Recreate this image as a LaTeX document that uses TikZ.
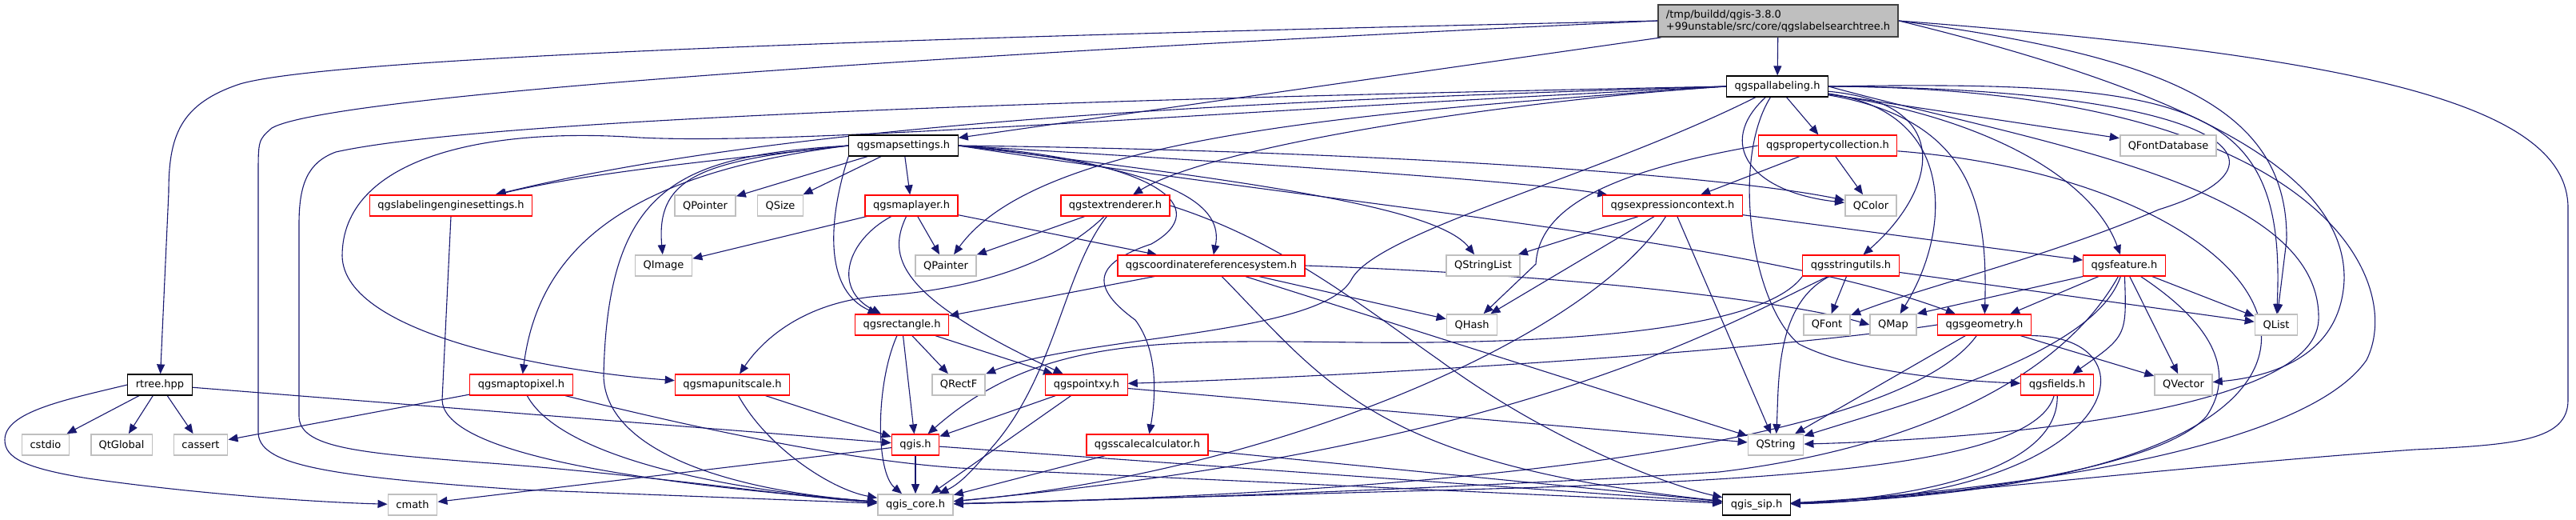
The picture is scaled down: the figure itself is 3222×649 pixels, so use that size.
\documentclass[tikz,border=0pt]{standalone}
\usepackage{fontspec}
\setmainfont{DejaVu Sans}
\usetikzlibrary{arrows.meta,backgrounds}
\definecolor{edgeblue}{HTML}{191970}
\definecolor{boxgray}{HTML}{BFBFBF}
\definecolor{rootedge}{HTML}{404040}

\begin{document}
\begin{tikzpicture}[
  x=0.5pt, y=-0.5pt,
  font=\fontsize{6.5}{7.5}\selectfont,
  >={Triangle[length=6pt,width=5pt]},
  file/.style={draw=black, line width=0.6pt, fill=white,
    minimum height=13pt, inner xsep=5pt, inner ysep=1pt},
  sysfile/.style={file, draw=boxgray, line width=0.9pt},
  redfile/.style={file, draw=red},
  root/.style={file, draw=rootedge, fill=boxgray, line width=0.9pt,
    align=left, minimum height=20pt, inner ysep=2pt},
  inc/.style={->, draw=edgeblue, line width=0.55pt}
]
\useasboundingbox (0,0) rectangle (3222,649);

\node[root] (main) at (2224,26)
  {/tmp/buildd/qgis-3.8.0\\+99unstable/src/core/qgslabelsearchtree.h};
\node[file] (pallabeling) at (2223,108) {qgspallabeling.h};
\node[file] (mapsettings) at (1130,182) {qgsmapsettings.h};
\node[redfile] (propcoll) at (2286,182) {qgspropertycollection.h};
\node[sysfile] (fontdb) at (2712,182) {QFontDatabase};
\node[redfile] (labengine) at (564,257) {qgslabelingenginesettings.h};
\node[sysfile] (qpointer) at (882,257) {QPointer};
\node[sysfile] (qsize) at (976,257) {QSize};
\node[redfile] (maplayer) at (1140,257) {qgsmaplayer.h};
\node[redfile] (textrend) at (1395,257) {qgstextrenderer.h};
\node[redfile] (exprctx) at (2092,257) {qgsexpressioncontext.h};
\node[sysfile] (qcolor) at (2340,257) {QColor};
\node[sysfile] (qimage) at (830,332) {QImage};
\node[sysfile] (qpainter) at (1183,332) {QPainter};
\node[redfile] (crs) at (1515,332) {qgscoordinatereferencesystem.h};
\node[sysfile] (qstringlist) at (1855,332) {QStringList};
\node[redfile] (strutils) at (2315,332) {qgsstringutils.h};
\node[redfile] (feature) at (2657,332) {qgsfeature.h};
\node[redfile] (rectangle) at (1128,406) {qgsrectangle.h};
\node[sysfile] (qhash) at (1841,406) {QHash};
\node[sysfile] (qfont) at (2285,406) {QFont};
\node[sysfile] (qmap) at (2368,406) {QMap};
\node[redfile] (geometry) at (2482,406) {qgsgeometry.h};
\node[sysfile] (qlist) at (2847,406) {QList};
\node[file] (rtree) at (200,481) {rtree.hpp};
\node[redfile] (maptopixel) at (652,481) {qgsmaptopixel.h};
\node[redfile] (mapunit) at (916,481) {qgsmapunitscale.h};
\node[sysfile] (qrectf) at (1199,481) {QRectF};
\node[redfile] (pointxy) at (1359,481) {qgspointxy.h};
\node[redfile] (fields) at (2573,481) {qgsfields.h};
\node[sysfile] (qvector) at (2731,481) {QVector};
\node[sysfile] (cstdio) at (57,556) {cstdio};
\node[sysfile] (qtglobal) at (152,556) {QtGlobal};
\node[sysfile] (cassert) at (251,556) {cassert};
\node[redfile] (qgish) at (1145,556) {qgis.h};
\node[redfile] (scalecalc) at (1435,556) {qgsscalecalculator.h};
\node[sysfile] (qstring) at (2221,556) {QString};
\node[sysfile] (cmath) at (516,631) {cmath};
\node[sysfile] (qgiscore) at (1145,631) {qgis\_core.h};
\node[file] (qgissip) at (2197,631) {qgis\_sip.h};

\begin{scope}[on background layer]
% qgslabelsearchtree.h
\draw[inc] (main) -- (pallabeling);
\draw[inc] (main) -- (mapsettings);
\draw[inc] (main.west) .. controls (1200,45) and (420,70) .. (300,105)
  .. controls (225,130) and (211,170) .. (211,240) -- (rtree);
\draw[inc] (main.west) .. controls (1300,62) and (420,115) .. (340,160)
  .. controls (323,175) .. (323,220) -- (323,540)
  .. controls (323,580) and (400,595) .. (650,612) -- (qgiscore);
\draw[inc] (main.east) .. controls (2700,70) and (2862,130) .. (2860,300) -- (qlist);
\draw[inc] (main.east) .. controls (2720,110) and (2935,210) .. (2932,350)
  .. controls (2928,440) and (2850,470) .. (qvector);
\draw[inc] (main.east) .. controls (2950,70) and (3212,130) .. (3212,260) -- (3212,500)
  .. controls (3212,550) and (3150,556) .. (3020,562)
  .. controls (2700,585) and (2400,622) .. (qgissip);
% qgspallabeling.h
\draw[inc] (pallabeling) -- (propcoll);
\draw[inc] (pallabeling) -- (fontdb);
\draw[inc] (pallabeling) .. controls (2145,180) and (2190,240) .. (qcolor);
\draw[inc] (pallabeling.west) .. controls (1600,125) and (1000,150) .. (labengine);
\draw[inc] (pallabeling.west) .. controls (1900,125) and (1520,180) .. (textrend);
\draw[inc] (pallabeling.west) .. controls (1700,140) and (1300,170) .. (qpainter);
\draw[inc] (pallabeling) .. controls (2000,220) and (1720,290) .. (1690,350)
  .. controls (1650,420) and (1350,420) .. (qrectf);
\draw[inc] (pallabeling.west) .. controls (1500,140) and (1000,182) .. (800,172)
  .. controls (600,158) and (428,200) .. (428,320)
  .. controls (430,420) and (700,465) .. (mapunit);
\draw[inc] (pallabeling.west) .. controls (1300,125) and (600,150) .. (420,190)
  .. controls (385,203) and (374,230) .. (374,280) -- (374,520)
  .. controls (374,560) and (450,566) .. (600,578)
  .. controls (800,592) and (1000,622) .. (qgiscore);
\draw[inc] (pallabeling) .. controls (2450,130) and (2420,240) .. (strutils);
\draw[inc] (pallabeling) .. controls (2450,140) and (2440,290) .. (qmap);
\draw[inc] (pallabeling) .. controls (2470,150) and (2486,260) .. (geometry);
\draw[inc] (pallabeling) .. controls (2500,150) and (2620,230) .. (feature);
\draw[inc] (pallabeling.east) .. controls (2760,110) and (2900,200) .. (2700,262)
  .. controls (2560,322) and (2400,360) .. (qfont);
\draw[inc] (pallabeling.east) .. controls (2750,100) and (2860,130) .. (qlist);
\draw[inc] (pallabeling.east) .. controls (2550,180) and (2905,230) .. (2900,400)
  .. controls (2895,520) and (2450,550) .. (qstring);
\draw[inc] (pallabeling) .. controls (2165,200) and (2190,380) .. (2250,430)
  .. controls (2320,466) and (2450,476) .. (fields);
\draw[inc] (pallabeling.east) .. controls (2900,110) and (3010,350) .. (2960,450)
  .. controls (2870,580) and (2400,620) .. (qgissip);
% qgsmapsettings.h
\draw[inc] (mapsettings.west) .. controls (900,200) and (740,215) .. (labengine);
\draw[inc] (mapsettings) -- (qpointer);
\draw[inc] (mapsettings) -- (qsize);
\draw[inc] (mapsettings.west) .. controls (880,200) and (820,220) .. (qimage);
\draw[inc] (mapsettings) -- (maplayer);
\draw[inc] (mapsettings.west) .. controls (800,215) and (675,300) .. (maptopixel);
\draw[inc] (mapsettings.south west) .. controls (1040,260) and (1025,360) .. (rectangle);
\draw[inc] (mapsettings.west) .. controls (850,195) and (760,230) .. (755,470)
  .. controls (757,560) and (900,612) .. (qgiscore);
\draw[inc] (mapsettings.east) .. controls (1480,210) and (1530,260) .. (crs);
\draw[inc] (mapsettings.east) .. controls (1450,200) and (1520,260) .. (1440,305)
  .. controls (1365,330) and (1365,360) .. (1420,400)
  .. controls (1450,440) and (1445,500) .. (scalecalc);
\draw[inc] (mapsettings.east) .. controls (1600,230) and (1800,262) .. (qstringlist);
\draw[inc] (mapsettings.east) .. controls (1500,200) and (1900,225) .. (exprctx);
\draw[inc] (mapsettings.east) .. controls (1700,188) and (2150,218) .. (qcolor);
\draw[inc] (mapsettings.east) .. controls (1700,260) and (2200,300) .. (geometry);
% qgsmaplayer.h
\draw[inc] (maplayer) -- (qimage);
\draw[inc] (maplayer) -- (qpainter);
\draw[inc] (maplayer) -- (crs);
\draw[inc] (maplayer) .. controls (1060,300) and (1040,360) .. (rectangle);
\draw[inc] (maplayer) .. controls (1110,320) and (1120,370) .. (pointxy);
% qgstextrenderer.h
\draw[inc] (textrend) -- (qpainter);
\draw[inc] (textrend) .. controls (1330,320) and (1240,360) .. (1100,370)
  .. controls (1000,378) and (950,430) .. (mapunit);
\draw[inc] (textrend) .. controls (1330,340) and (1320,470) .. (1240,560)
  .. controls (1215,590) and (1200,605) .. (qgiscore);
\draw[inc] (textrend.east) .. controls (1600,300) and (1700,380) .. (1800,450)
  .. controls (1950,560) and (2100,610) .. (qgissip);
% qgscoordinatereferencesystem.h
\draw[inc] (crs) -- (rectangle);
\draw[inc] (crs) -- (qhash);
\draw[inc] (crs.east) .. controls (2000,345) and (2250,380) .. (qmap.west);
\draw[inc] (crs) -- (qstring);
\draw[inc] (crs) .. controls (1660,480) and (1720,580) .. (qgissip);
% qgsrectangle.h
\draw[inc] (rectangle) -- (qrectf);
\draw[inc] (rectangle) -- (pointxy);
\draw[inc] (rectangle) -- (qgish);
\draw[inc] (rectangle) .. controls (1095,480) and (1095,590) .. (qgiscore);
% qgspointxy.h
\draw[inc] (pointxy) -- (qgish);
\draw[inc] (pointxy) -- (qgiscore);
\draw[inc] (pointxy) -- (qstring);
% qgis.h
\draw[inc] (qgish) -- (cmath);
\draw[inc] (qgish) -- (qgiscore);
\draw[inc] (qgish) -- (qgissip);
% qgsscalecalculator.h
\draw[inc] (scalecalc) -- (qgiscore);
\draw[inc] (scalecalc) -- (qgissip);
% rtree.hpp
\draw[inc] (rtree) -- (cstdio);
\draw[inc] (rtree) -- (qtglobal);
\draw[inc] (rtree) -- (cassert);
\draw[inc] (rtree.west) .. controls (80,500) and (6,515) .. (6,550)
  .. controls (6,572) and (30,585) .. (110,598)
  .. controls (250,618) and (400,628) .. (cmath);
\draw[inc] (rtree) -- (qgish);
% qgsmaptopixel.h, qgsmapunitscale.h, qgslabelingenginesettings.h
\draw[inc] (maptopixel) -- (cassert);
\draw[inc] (maptopixel) .. controls (700,570) and (900,612) .. (qgiscore);
\draw[inc] (maptopixel) .. controls (850,530) and (1050,575) .. (1200,585) -- (qgissip);
\draw[inc] (mapunit) -- (qgish);
\draw[inc] (mapunit) .. controls (960,560) and (1040,612) .. (qgiscore);
\draw[inc] (labengine.south) -- (553,500) .. controls (555,560) and (750,600) .. (qgiscore);
% qgsexpressioncontext.h, qgspropertycollection.h
\draw[inc] (exprctx) -- (qstringlist);
\draw[inc] (exprctx) -- (qhash);
\draw[inc] (exprctx) -- (qstring);
\draw[inc] (exprctx) -- (feature);
\draw[inc] (exprctx) .. controls (1990,420) and (1600,590) .. (qgiscore);
\draw[inc] (propcoll) -- (exprctx);
\draw[inc] (propcoll) -- (qcolor);
\draw[inc] (propcoll.west) .. controls (2010,215) and (1925,260) .. (1921,330) -- (qhash);
\draw[inc] (propcoll) .. controls (2900,230) and (3100,600) .. (qgissip);
% qgsstringutils.h
\draw[inc] (strutils) -- (qfont);
\draw[inc] (strutils) -- (qlist);
\draw[inc] (strutils) .. controls (2220,380) and (2225,480) .. (qstring);
\draw[inc] (strutils) .. controls (2150,410) and (1900,560) .. (qgiscore);
\draw[inc] (strutils.south west) .. controls (2200,420) and (1900,430) .. (1700,428)
  .. controls (1450,425) and (1300,420) .. (qgish);
% qgsfeature.h
\draw[inc] (feature) -- (geometry);
\draw[inc] (feature.south west) -- (qmap.north east);
\draw[inc] (feature) .. controls (2660,420) .. (fields);
\draw[inc] (feature) -- (qvector);
\draw[inc] (feature) -- (qlist);
\draw[inc] (feature) .. controls (2620,440) and (2400,500) .. (qstring);
\draw[inc] (feature) .. controls (2580,470) and (2400,560) .. (2150,590)
  .. controls (1800,612) and (1400,625) .. (qgiscore);
\draw[inc] (feature) .. controls (2760,400) and (2800,460) .. (2760,520)
  .. controls (2700,590) and (2400,625) .. (qgissip);
% qgsgeometry.h
\draw[inc] (geometry) -- (qstring);
\draw[inc] (geometry) .. controls (2400,520) and (2050,610) .. (qgiscore);
\draw[inc] (geometry.south east) .. controls (2700,420) and (2660,620) .. (qgissip);
\draw[inc] (geometry.west) .. controls (2200,440) and (1700,470) .. (pointxy);
\draw[inc] (geometry) -- (qvector);
% qgsfields.h
\draw[inc] (fields) .. controls (2545,580) and (2250,598) .. (1900,610) -- (qgiscore);
\draw[inc] (fields) .. controls (2575,600) and (2350,625) .. (qgissip);
\end{scope}
\end{tikzpicture}
\end{document}
